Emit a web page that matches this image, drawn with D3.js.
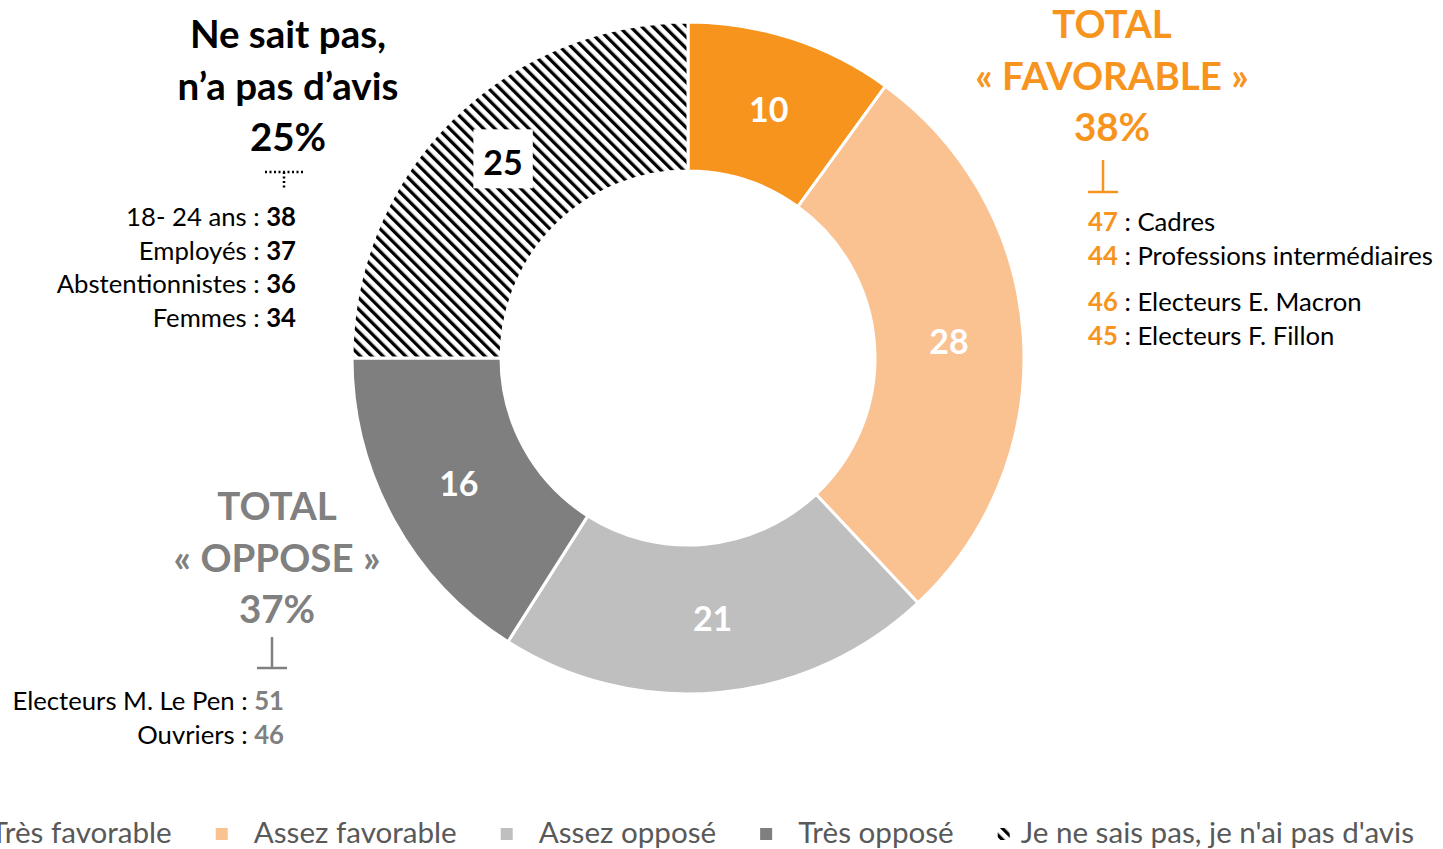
<!DOCTYPE html>
<html>
<head>
<meta charset="utf-8">
<script src="https://cdn.jsdelivr.net/npm/d3@7"></script>
<style>
  body { margin: 0; background: #fff; }
  #chart { width: 1443px; height: 849px; }
  text { font-family: Lato, "Open Sans", sans-serif; }
</style>
</head>
<body>
<div id="chart"></div>
<script>
// data
const categories = ["Très favorable", "Assez favorable", "Assez opposé", "Très opposé", "Je ne sais pas, je n'ai pas d'avis"];
const values = [10, 28, 21, 16, 25];
const colors = ["#F7941D", "#FAC191", "#BFBFBF", "#7F7F7F", "hatch"];

const nspTitle = ["Ne sait pas,", "n’a pas d’avis"];
const nspLabels = ["18- 24 ans", "Employés", "Abstentionnistes", "Femmes"];
const nspValues = [38, 37, 36, 34];

const favTitle = ["TOTAL", "« FAVORABLE »"];
const favLabels = [["Cadres", "Professions intermédiaires"], ["Electeurs E. Macron", "Electeurs F. Fillon"]];
const favValues = [[47, 44], [46, 45]];

const oppTitle = ["TOTAL", "« OPPOSE »"];
const oppLabels = ["Electeurs M. Le Pen", "Ouvriers"];
const oppValues = [51, 46];

/* sizes */
const width = 1443;
const height = 849;
const cx = 688, cy = 358;
const outerR = 336, innerR = 187;

const orange = "#F7941D";
const grey = "#808080";

const svg = d3.select("#chart")
    .append("svg")
    .attr("width", width)
    .attr("height", height);

// hatch pattern for the "ne sait pas" slice
const defs = svg.append("defs");
const pat = defs.append("pattern")
    .attr("id", "hatch")
    .attr("patternUnits", "userSpaceOnUse")
    .attr("width", 8)
    .attr("height", 8)
    .attr("patternTransform", "rotate(-45)");
pat.append("rect").attr("width", 8).attr("height", 8).attr("fill", "#fff");
pat.append("rect").attr("width", 3.3).attr("height", 8).attr("fill", "#000");

const fill = d3.scaleOrdinal()
    .domain(categories)
    .range(colors.map(c => c === "hatch" ? "url(#hatch)" : c));

const pie = d3.pie().sort(null).value(d => d.value);
const arcs = pie(categories.map((c, i) => ({ key: c, value: values[i] })));

const arc = d3.arc().innerRadius(innerR).outerRadius(outerR);

const g = svg.append("g").attr("transform", `translate(${cx},${cy})`);

//draw the slices
g.selectAll(".slice")
    .data(arcs)
    .enter()
    .append("path")
    .attr("class", "slice")
    .attr("d", arc)
    .attr("fill", d => fill(d.data.key))
    .attr("stroke", "#fff")
    .attr("stroke-width", 3);

//slice labels
const labels = g.selectAll(".lbl")
    .data(arcs)
    .enter()
    .append("g")
    .attr("class", "lbl")
    .attr("transform", d => {
        const c = arc.centroid(d);
        // the boxed label sits a little higher in the original
        if (d.data.key === categories[4]) c[1] -= 10;
        return `translate(${c})`;
    });

labels.append("text")
    .attr("text-anchor", "middle")
    .attr("dy", "0.36em")
    .attr("font-size", 34)
    .attr("font-weight", "bold")
    .attr("fill", d => d.data.key === categories[4] ? "#000" : "#fff")
    .text(d => d.data.value);

// white box behind the label on the hatched slice
labels.filter(d => d.data.key === categories[4]).each(function () {
    const t = d3.select(this).select("text");
    const b = t.node().getBBox();
    d3.select(this).insert("rect", "text")
        .attr("x", b.x - 10)
        .attr("y", b.y - 12)
        .attr("width", b.width + 20)
        .attr("height", b.height + 18)
        .attr("fill", "#fff");
});

const totalFav = values[0] + values[1];
const totalOpp = values[2] + values[3];
const totalNsp = values[4];

// big block titles
function titleBlock(x, y0, lines, color) {
    svg.append("text")
        .attr("x", x)
        .attr("y", y0)
        .attr("text-anchor", "middle")
        .attr("font-size", 38.5)
        .attr("font-weight", "bold")
        .attr("fill", color)
        .selectAll("tspan")
        .data(lines)
        .enter()
        .append("tspan")
        .attr("x", x)
        .attr("dy", (d, i) => i === 0 ? 0 : 51.5)
        .text(d => d);
}

// the little "T" under each total
function tee(x, y1, y2, half, color, dash) {
    const t = svg.append("g")
        .attr("stroke", color)
        .attr("stroke-width", 2.5)
        .attr("stroke-dasharray", dash || null);
    t.append("line").attr("x1", x).attr("x2", x).attr("y1", y1).attr("y2", y2);
    t.append("line").attr("x1", x - half).attr("x2", x + half).attr("y1", dash ? y1 : y2).attr("y2", dash ? y1 : y2);
}

// ne sait pas
titleBlock(288, 48, nspTitle.concat([totalNsp + "%"]), "#000");
tee(284, 172, 190, 19, "#000", "2,2.5");

svg.append("g").selectAll("text")
    .data(nspLabels)
    .enter()
    .append("text")
    .attr("x", 296)
    .attr("y", (d, i) => 226 + i * 33.7)
    .attr("text-anchor", "end")
    .attr("font-size", 25.7)
    .attr("fill", "#000")
    .each(function (d, i) {
        d3.select(this).append("tspan").text(d + " : ");
        d3.select(this).append("tspan").attr("font-weight", "bold").text(nspValues[i]);
    });

// total favorable
titleBlock(1112, 38, favTitle.concat([totalFav + "%"]), orange);
tee(1103, 160, 192, 15, orange);

const favRows = [];
favLabels.forEach((grp, gi) => grp.forEach((l, li) => favRows.push({ label: l, value: favValues[gi][li], y: 231 + gi * 80 + li * 34 })));

svg.append("g").selectAll("text")
    .data(favRows)
    .enter()
    .append("text")
    .attr("x", 1088)
    .attr("y", d => d.y)
    .attr("font-size", 25.7)
    .attr("fill", "#000")
    .each(function (d) {
        d3.select(this).append("tspan").attr("font-weight", "bold").attr("fill", orange).text(d.value);
        d3.select(this).append("tspan").text(" : " + d.label);
    });

// total oppose
titleBlock(277, 520, oppTitle.concat([totalOpp + "%"]), grey);
tee(272, 637, 668, 15, grey);

svg.append("g").selectAll("text")
    .data(oppLabels)
    .enter()
    .append("text")
    .attr("x", 284)
    .attr("y", (d, i) => 710 + i * 34)
    .attr("text-anchor", "end")
    .attr("font-size", 25.7)
    .attr("fill", "#000")
    .each(function (d, i) {
        d3.select(this).append("tspan").text(d + " : ");
        d3.select(this).append("tspan").attr("font-weight", "bold").attr("fill", grey).text(oppValues[i]);
    });

//LEGEND
const legend = svg.append("g");
const items = legend.selectAll(".leg")
    .data(categories)
    .enter()
    .append("g")
    .attr("class", "leg");

items.append("rect")
    .attr("width", 12)
    .attr("height", 12)
    .attr("y", 828)
    .attr("fill", d => fill(d));

// the hatched entry has its text closer to the marker
const textOffset = d => d === categories[4] ? 23 : 38;

items.append("text")
    .attr("x", textOffset)
    .attr("y", 843)
    .attr("font-size", 29.6)
    .attr("fill", "#595959")
    .text(d => d);

// lay the legend items out one after another, then place the row
let xPos = 0;
items.each(function (d) {
    const w = d3.select(this).select("text").node().getComputedTextLength();
    d3.select(this).attr("transform", `translate(${xPos},0)`);
    xPos += textOffset(d) + w + 44;
});
const total = xPos - 44;
legend.attr("transform", `translate(${1414 - total},0)`);
</script>
</body>
</html>
